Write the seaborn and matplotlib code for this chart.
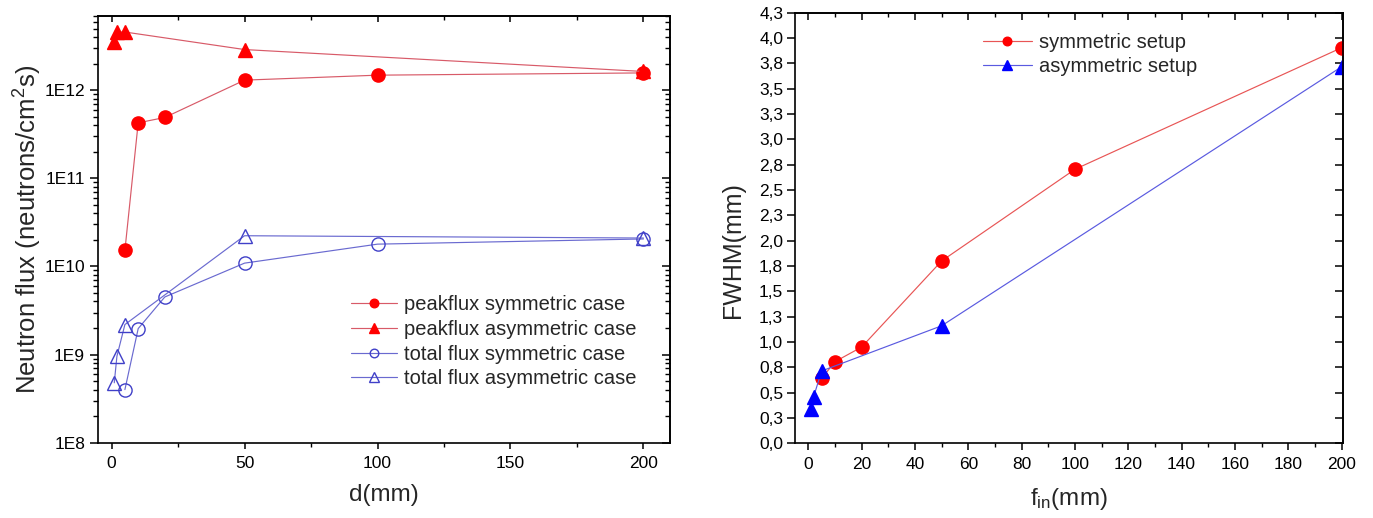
import numpy as np
import pandas as pd
import matplotlib
matplotlib.use("Agg")
import matplotlib.pyplot as plt
import matplotlib.ticker as mticker
import seaborn as sns

# ---------------- data: left panel (neutron flux vs d) ----------------
d_peak_sym = [5, 10, 20, 50, 100, 200]
flux_peak_sym = [1.52e10, 4.26e11, 4.9e11, 1.30e12, 1.48e12, 1.57e12]
d_peak_asym = [1, 2, 5, 50, 200]
flux_peak_asym = [3.52e12, 4.57e12, 4.57e12, 2.89e12, 1.63e12]
d_total_sym = [5, 10, 20, 50, 100, 200]
flux_total_sym = [4.0e8, 1.97e9, 4.5e9, 1.09e10, 1.79e10, 2.05e10]
d_total_asym = [1, 2, 5, 50, 200]
flux_total_asym = [4.78e8, 9.57e8, 2.19e9, 2.23e10, 2.10e10]
left_labels = ["peakflux symmetric case", "peakflux asymmetric case",
               "total flux symmetric case", "total flux asymmetric case"]
left_yticks = [1e8, 1e9, 1e10, 1e11, 1e12]
left_yticklabels = ["1E8", "1E9", "1E10", "1E11", "1E12"]
left_xticks = [0, 50, 100, 150, 200]

# ---------------- data: right panel (FWHM vs f_in) ----------------
fin_sym = [5, 10, 20, 50, 100, 200]
fwhm_sym = [0.64, 0.806, 0.95, 1.80, 2.705, 3.905]
fin_asym = [1, 2, 5, 50, 200]
fwhm_asym = [0.336, 0.46, 0.714, 1.16, 3.717]
right_labels = ["symmetric setup", "asymmetric setup"]
right_yticklabels = ["0,0", "0,3", "0,5", "0,8", "1,0", "1,3", "1,5", "1,8", "2,0",
                     "2,3", "2,5", "2,8", "3,0", "3,3", "3,5", "3,8", "4,0", "4,3"]
right_xticks = [0, 20, 40, 60, 80, 100, 120, 140, 160, 180, 200]

# ---------------- style ----------------
sns.set_style("ticks")
FONT = ["Liberation Sans", "DejaVu Sans"]
plt.rcParams["font.family"] = FONT
plt.rcParams["mathtext.fontset"] = "custom"
plt.rcParams["mathtext.rm"] = "Liberation Sans"
plt.rcParams["mathtext.it"] = "Liberation Sans:italic"
plt.rcParams["mathtext.bf"] = "Liberation Sans:bold"
plt.rcParams["axes.edgecolor"] = "black"
plt.rcParams["xtick.color"] = "black"
plt.rcParams["ytick.color"] = "black"
plt.rcParams["axes.linewidth"] = 1.2

RED = "#ff0000"
RED_LINE_L = "#d85a68"
BLUE_OPEN = "#4040c8"
BLUE_LINE_L = "#6a6ad0"
BLUE = "#0000ff"
RED_LINE_R = "#e85555"
BLUE_LINE_R = "#5a5ae0"

TICK_FS = 12.5
LEG_FS = 14.5

fig = plt.figure(figsize=(13.73, 5.18), dpi=100)
ax1 = fig.add_axes([0.0716, 0.1454, 0.4164, 0.8243])
ax2 = fig.add_axes([0.5790, 0.1442, 0.3991, 0.8311])


def draw(ax, x, y, label, marker, line_color, face, edge, ms, mew=1.0, lw=0.85, clip=True):
    df = pd.DataFrame({"x": x, "y": y})
    sns.lineplot(data=df, x="x", y="y", ax=ax, label=label, color=line_color,
                 marker=marker, markersize=ms, markerfacecolor=face,
                 markeredgecolor=edge, markeredgewidth=mew, linewidth=lw,
                 estimator=None, sort=False, clip_on=clip)


# ---------------- left panel ----------------
ax1.set_yscale("log")
draw(ax1, d_peak_sym, flux_peak_sym, left_labels[0], "o", RED_LINE_L, RED, RED, 9.5, clip=False)
draw(ax1, d_peak_asym, flux_peak_asym, left_labels[1], "^", RED_LINE_L, RED, RED, 10, clip=False)
draw(ax1, d_total_sym, flux_total_sym, left_labels[2], "o", BLUE_LINE_L, "none", BLUE_OPEN, 9.5, clip=False)
draw(ax1, d_total_asym, flux_total_asym, left_labels[3], "^", BLUE_LINE_L, "none", BLUE_OPEN, 10, clip=False)

ax1.set_xlim(-5, 210)
ax1.set_ylim(1e8, 7e12)
ax1.xaxis.set_major_locator(mticker.FixedLocator(left_xticks))
ax1.xaxis.set_minor_locator(mticker.MultipleLocator(25))
ax1.yaxis.set_major_locator(mticker.FixedLocator(left_yticks))
ax1.yaxis.set_major_formatter(mticker.FixedFormatter(left_yticklabels))
ax1.yaxis.set_minor_locator(mticker.LogLocator(base=10, subs=np.arange(2, 10), numticks=50))
ax1.yaxis.set_minor_formatter(mticker.NullFormatter())
ax1.tick_params(axis="y", which="major", direction="out", length=6, width=1.1, labelsize=TICK_FS, pad=3.5)
ax1.tick_params(axis="y", which="minor", direction="out", length=3.5, width=1.0)
ax1.tick_params(axis="x", which="major", direction="out", length=4.5, width=1.1, labelsize=TICK_FS, pad=5)
ax1.tick_params(axis="x", which="minor", direction="out", length=3, width=1.0)

top1 = ax1.secondary_xaxis("top")
top1.xaxis.set_major_locator(mticker.FixedLocator(left_xticks))
top1.xaxis.set_minor_locator(mticker.MultipleLocator(25))
top1.tick_params(axis="x", which="major", direction="in", length=4.5, width=1.1, labeltop=False)
top1.tick_params(axis="x", which="minor", direction="in", length=3, width=1.0)
right1 = ax1.secondary_yaxis("right")
right1.yaxis.set_major_locator(mticker.FixedLocator(left_yticks))
right1.yaxis.set_minor_locator(mticker.LogLocator(base=10, subs=np.arange(2, 10), numticks=50))
right1.yaxis.set_minor_formatter(mticker.NullFormatter())
right1.tick_params(axis="y", which="major", direction="in", length=6, width=1.1, labelright=False)
right1.tick_params(axis="y", which="minor", direction="in", length=3.5, width=1.0)

ax1.set_xlabel("d(mm)", fontsize=17.5)
ax1.set_ylabel("Neutron flux (neutrons/cm$^2$s)", fontsize=18.5)
ax1.xaxis.set_label_coords(0.5, -0.097)
ax1.yaxis.set_label_coords(-0.095, 0.5)

ax1.legend(loc="upper left", bbox_to_anchor=(0.442, 0.345), frameon=False, fontsize=LEG_FS,
           handlelength=2.3, handletextpad=0.35, labelspacing=0.28, borderpad=0,
           borderaxespad=0, markerscale=0.65)

# ---------------- right panel ----------------
draw(ax2, fin_sym, fwhm_sym, right_labels[0], "o", RED_LINE_R, RED, RED, 9.5)
draw(ax2, fin_asym, fwhm_asym, right_labels[1], "^", BLUE_LINE_R, BLUE, BLUE, 10)

ax2.set_xlim(-5, 200.5)
ax2.set_ylim(0, 4.25)
yt = np.linspace(0, 4.25, len(right_yticklabels))
ax2.xaxis.set_major_locator(mticker.FixedLocator(right_xticks))
ax2.xaxis.set_minor_locator(mticker.MultipleLocator(10))
ax2.yaxis.set_major_locator(mticker.FixedLocator(yt))
ax2.yaxis.set_major_formatter(mticker.FixedFormatter(right_yticklabels))
ax2.tick_params(axis="y", which="major", direction="out", length=6, width=1.1, labelsize=TICK_FS, pad=2.5)
ax2.tick_params(axis="x", which="major", direction="out", length=5, width=1.1, labelsize=TICK_FS, pad=5)
ax2.tick_params(axis="x", which="minor", direction="out", length=3, width=1.0)

top2 = ax2.secondary_xaxis("top")
top2.xaxis.set_major_locator(mticker.FixedLocator(right_xticks))
top2.xaxis.set_minor_locator(mticker.MultipleLocator(10))
top2.tick_params(axis="x", which="major", direction="in", length=5, width=1.1, labeltop=False)
top2.tick_params(axis="x", which="minor", direction="in", length=3, width=1.0)
right2 = ax2.secondary_yaxis("right")
right2.yaxis.set_major_locator(mticker.FixedLocator(yt))
right2.tick_params(axis="y", which="major", direction="in", length=6, width=1.1, labelright=False)

ax2.set_xlabel(r"f$_{\mathrm{in}}$(mm)", fontsize=17.5)
ax2.set_ylabel("FWHM(mm)", fontsize=18)
ax2.xaxis.set_label_coords(0.5, -0.099)
ax2.yaxis.set_label_coords(-0.091, 0.45)

ax2.legend(loc="upper left", bbox_to_anchor=(0.3436, 0.953), frameon=False, fontsize=LEG_FS,
           handlelength=2.4, handletextpad=0.35, labelspacing=0.25, borderpad=0,
           borderaxespad=0, markerscale=0.65)

fig.savefig("out.png", dpi=100)
